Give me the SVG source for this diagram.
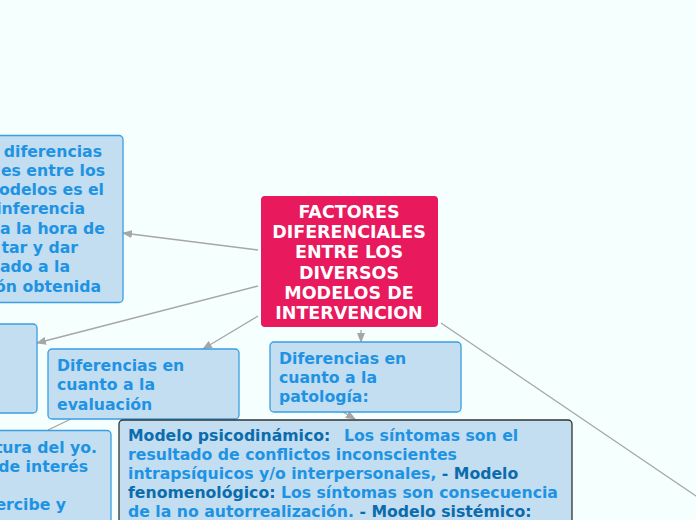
<svg xmlns="http://www.w3.org/2000/svg" width="696" height="520" viewBox="0 0 696 520">
<style>
.bg{fill:#F4FFFE}
.node{fill:#C3DDF1;stroke:#3A9FE2;stroke-width:1.3}
.dark{fill:#C3DDF1;stroke:#333;stroke-width:1.3}
.t{font-family:"DejaVu Sans",Verdana,sans-serif;font-weight:bold;font-size:15.7px;fill:#1E93E3}
.e{text-anchor:end}
.d{fill:#0B6CAD}
.c{font-family:"DejaVu Sans",Verdana,sans-serif;font-weight:bold;font-size:17.5px;fill:#fff;text-anchor:middle}
.conn{stroke:#A6A6A6;stroke-width:1.3;fill:none}
</style>
<defs>
<marker id="ah" markerWidth="10" markerHeight="8" refX="9" refY="4" orient="auto" markerUnits="userSpaceOnUse">
<path d="M0,0 L10,4 L0,8 Z" fill="#A6A6A6"/>
</marker>
</defs>
<rect class="bg" x="0" y="0" width="696" height="520"/>
<g id="connectors">
<line class="conn" x1="258" y1="250" x2="123" y2="233" marker-end="url(#ah)"/>
<line class="conn" x1="258" y1="286" x2="37" y2="343" marker-end="url(#ah)"/>
<line class="conn" x1="258" y1="316" x2="203" y2="349" marker-end="url(#ah)"/>
<line class="conn" x1="361" y1="330" x2="361" y2="342" marker-end="url(#ah)"/>
<line class="conn" x1="343" y1="412" x2="355" y2="419" marker-end="url(#ah)"/>
<line class="conn" x1="71" y1="419" x2="48" y2="430"/>
<line class="conn" x1="441" y1="323" x2="702" y2="500"/>
</g>
<g id="central">
<rect x="261" y="196" width="177" height="131" rx="4" fill="#E8195D"/>
<text class="c"><tspan x="349" y="218">FACTORES</tspan><tspan x="349" y="238.2">DIFERENCIALES</tspan><tspan x="349" y="258.4">ENTRE LOS</tspan><tspan x="349" y="278.6">DIVERSOS</tspan><tspan x="349" y="298.8">MODELOS DE</tspan><tspan x="349" y="319">INTERVENCION</tspan></text>
</g>
<g id="node-inferencia">
<rect class="node" x="-10" y="135.5" width="133" height="167" rx="4"/>
<text class="t e"><tspan x="102" y="156.5">diferencias</tspan><tspan x="105" y="175.8">es entre los</tspan><tspan x="104" y="195.1">odelos es el</tspan><tspan x="85" y="214.4">inferencia</tspan><tspan x="105" y="233.7">a la hora de</tspan><tspan x="78" y="253">tar y dar</tspan><tspan x="70" y="272.3">ado a la</tspan><tspan x="101" y="291.6">ón obtenida</tspan></text>
</g>
<g id="node-left2">
<rect class="node" x="-10" y="324" width="47" height="89" rx="4"/>
</g>
<g id="node-evaluacion">
<rect class="node" x="48" y="349" width="191" height="70" rx="4"/>
<text class="t"><tspan x="57" y="370.7">Diferencias en</tspan><tspan x="57" y="390.2">cuanto a la</tspan><tspan x="57" y="409.5">evaluación</tspan></text>
</g>
<g id="node-patologia">
<rect class="node" x="270" y="342" width="191" height="70" rx="4"/>
<text class="t"><tspan x="279" y="363.5">Diferencias en</tspan><tspan x="279" y="383">cuanto a la</tspan><tspan x="279" y="402.3">patología:</tspan></text>
</g>
<g id="node-yo">
<rect class="node" x="-10" y="430.5" width="121" height="100" rx="4"/>
<text class="t e"><tspan x="97" y="452.5">tura del yo.</tspan><tspan x="88" y="471.5">de interés</tspan><tspan x="66" y="509.5">ercibe y</tspan></text>
</g>
<g id="node-modelos">
<rect class="dark" x="119" y="420" width="453" height="120" rx="4"/>
<text class="t"><tspan x="128" y="441"><tspan class="d">Modelo psicodinámico:</tspan><tspan x="344">Los síntomas son el</tspan></tspan><tspan x="128" y="460">resultado de conflictos inconscientes</tspan><tspan x="128" y="479">intrapsíquicos y/o interpersonales, <tspan class="d">- Modelo</tspan></tspan><tspan x="128" y="498"><tspan class="d">fenomenológico:</tspan> Los síntomas son consecuencia</tspan><tspan x="128" y="517">de la no autorrealización. <tspan class="d">- Modelo sistémico:</tspan></tspan></text>
</g>
</svg>
